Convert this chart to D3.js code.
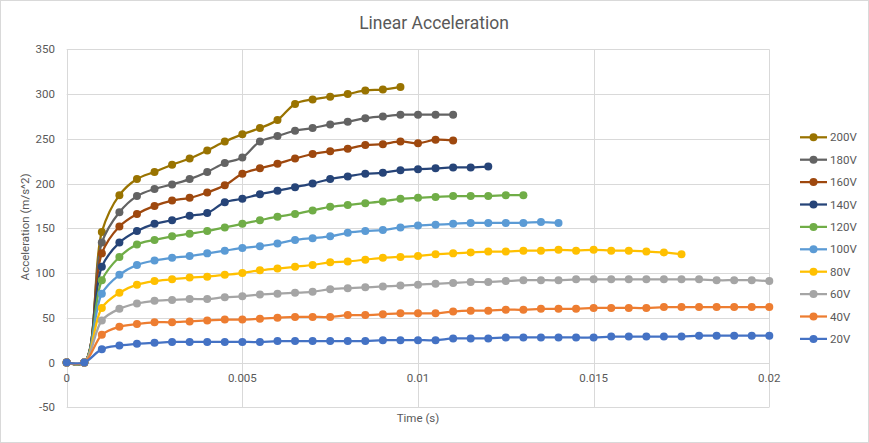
<!DOCTYPE html>
<html>
<head>
<meta charset="utf-8">
<script src="https://cdn.jsdelivr.net/npm/d3@7"></script>
<style>
  html, body { margin: 0; padding: 0; background: #fff; }
  svg { display: block; }
  text { font-family: Roboto, "Open Sans", sans-serif; fill: #595959; }
</style>
</head>
<body>
<svg id="chart" width="869" height="443"></svg>
<script>
// ---- data ----
const time = [0, 0.0005, 0.001, 0.0015, 0.002, 0.0025, 0.003, 0.0035, 0.004, 0.0045,
  0.005, 0.0055, 0.006, 0.0065, 0.007, 0.0075, 0.008, 0.0085, 0.009, 0.0095,
  0.01, 0.0105, 0.011, 0.0115, 0.012, 0.0125, 0.013, 0.0135, 0.014, 0.0145,
  0.015, 0.0155, 0.016, 0.0165, 0.017, 0.0175, 0.018, 0.0185, 0.019, 0.0195, 0.02];

const seriesNames = ["200V", "180V", "160V", "140V", "120V", "100V", "80V", "60V", "40V", "20V"];
const seriesColors = ["#997300", "#636363", "#9E480E", "#264478", "#70AD47", "#5B9BD5", "#FFC000", "#A5A5A5", "#ED7D31", "#4472C4"];

const v200 = [0, 0, 146, 187, 205, 213, 221, 228, 237, 247, 255, 262, 271, 289, 294, 297, 300, 304, 305, 308];
const v180 = [0, 0, 134, 168, 186, 194, 199, 205, 213, 223, 229, 247, 253, 259, 262, 266, 269, 273, 275, 277, 277, 277, 277];
const v160 = [0, 0, 122, 152, 166, 175, 181, 184, 190, 198, 211, 217, 222, 228, 233, 236, 239, 243, 244, 247, 245, 249, 248];
const v140 = [0, 0, 107, 134, 147, 155, 159, 164, 167, 179, 183, 188, 192, 196, 200, 205, 208, 211, 212, 215, 216, 217, 218, 218, 219];
const v120 = [0, 0, 92, 118, 132, 137, 141, 144, 147, 151, 155, 159, 163, 166, 170, 174, 176, 178, 180, 183, 184, 185, 186, 186, 186, 187, 187];
const v100 = [0, 0, 77, 98, 109, 114, 117, 119, 122, 125, 128, 130, 133, 137, 139, 141, 145, 147, 148, 151, 153, 154, 155, 156, 156, 156, 156, 157, 156];
const v80  = [0, 0, 61, 78, 87, 91, 93, 95, 96, 98, 100, 103, 105, 107, 109, 112, 113, 115, 117, 118, 119, 121, 122, 123, 124, 124, 125, 125, 126, 125, 126, 125, 125, 124, 123, 121];
const v60  = [0, 0, 47, 60, 66, 69, 70, 71, 71, 73, 74, 76, 77, 78, 79, 82, 83, 84, 85, 86, 87, 88, 89, 90, 90, 91, 92, 92, 92, 93, 93, 93, 93, 93, 93, 93, 93, 92, 92, 92, 91];
const v40  = [0, 0, 31, 40, 43, 45, 45, 46, 47, 48, 48, 49, 50, 51, 51, 51, 53, 53, 54, 55, 55, 55, 57, 58, 58, 59, 59, 60, 60, 60, 61, 61, 61, 61, 62, 62, 62, 62, 62, 62, 62];
const v20  = [0, 0, 15, 19, 21, 22, 23, 23, 23, 23, 23, 23, 24, 24, 24, 24, 24, 24, 25, 25, 25, 25, 27, 27, 27, 28, 28, 28, 28, 28, 28, 29, 29, 29, 29, 29, 30, 30, 30, 30, 30];

const seriesValues = [v200, v180, v160, v140, v120, v100, v80, v60, v40, v20];

const xTicks = [0, 0.005, 0.01, 0.015, 0.02];
const xTickLabels = ["0", "0.005", "0.01", "0.015", "0.02"];
const yTicks = [-50, 0, 50, 100, 150, 200, 250, 300, 350];

const titleText = "Linear Acceleration";
const xTitle = "Time (s)";
const yTitle = "Acceleration (m/s^2)";

// ---- layout ----
const W = 869, H = 443;
const plot = { left: 66.7, right: 769.3, top: 49.3, bottom: 407.3 };

const svg = d3.select("#chart");

// outer border
svg.append("rect").attr("x", 0.5).attr("y", 0.5).attr("width", W - 1).attr("height", H - 1)
  .attr("fill", "#fff").attr("stroke", "#d9d9d9");

const x = d3.scaleLinear().domain([0, 0.02]).range([plot.left, plot.right]);
const y = d3.scaleLinear().domain([-50, 350]).range([plot.bottom, plot.top]);

const gridColor = "#d9d9d9";

// horizontal gridlines
svg.append("g").selectAll("line").data(yTicks).join("line")
  .attr("x1", plot.left).attr("x2", plot.right)
  .attr("y1", d => Math.round(y(d)) + 0.5).attr("y2", d => Math.round(y(d)) + 0.5)
  .attr("stroke", gridColor).attr("stroke-width", 1);

// vertical gridlines
svg.append("g").selectAll("line").data(xTicks).join("line")
  .attr("x1", d => Math.round(x(d)) + 0.5).attr("x2", d => Math.round(x(d)) + 0.5)
  .attr("y1", plot.top).attr("y2", plot.bottom)
  .attr("stroke", gridColor).attr("stroke-width", 1);

// y tick labels
svg.append("g").selectAll("text").data(yTicks).join("text")
  .attr("x", 55).attr("y", d => y(d))
  .attr("dy", "0.35em")
  .attr("text-anchor", "end")
  .attr("font-size", 11.5)
  .text(d => d);

// x tick labels (at y=0 crossing)
svg.append("g").selectAll("text").data(xTicks).join("text")
  .attr("x", d => x(d)).attr("y", y(0) + 15)
  .attr("dy", "0.35em")
  .attr("text-anchor", "middle")
  .attr("font-size", 11.5)
  .text((d, i) => xTickLabels[i]);

// title
svg.append("text").attr("x", 434).attr("y", 23).attr("dy", "0.35em")
  .attr("text-anchor", "middle").attr("font-size", 17.5).text(titleText);

// axis titles
svg.append("text").attr("x", 418).attr("y", 418).attr("dy", "0.35em")
  .attr("text-anchor", "middle").attr("font-size", 11.5).text(xTitle);
svg.append("text")
  .attr("transform", `translate(25,227) rotate(-90)`)
  .attr("dy", "0.35em")
  .attr("text-anchor", "middle").attr("font-size", 11.5).text(yTitle);

// series: 200V drawn first, 20V on top
const line = d3.line()
  .x(d => x(d[0])).y(d => y(d[1]))
  .curve(d3.curveCatmullRom.alpha(0.5));

const g = svg.append("g");
seriesNames.forEach((name, i) => {
  const pts = seriesValues[i].map((v, k) => [time[k], v]);
  g.append("path").datum(pts)
    .attr("d", line)
    .attr("fill", "none")
    .attr("stroke", seriesColors[i])
    .attr("stroke-width", 2.25)
    .attr("stroke-linejoin", "round")
    .attr("stroke-linecap", "round");
  g.append("g").selectAll("circle").data(pts).join("circle")
    .attr("cx", d => x(d[0])).attr("cy", d => y(d[1]))
    .attr("r", 4)
    .attr("fill", seriesColors[i]);
});

// legend
const legend = svg.append("g");
seriesNames.forEach((name, i) => {
  const ly = 137.3 + i * 22.4;
  legend.append("line").attr("x1", 800).attr("x2", 827).attr("y1", ly).attr("y2", ly)
    .attr("stroke", seriesColors[i]).attr("stroke-width", 2.25);
  legend.append("circle").attr("cx", 813.5).attr("cy", ly).attr("r", 4).attr("fill", seriesColors[i]);
  legend.append("text").attr("x", 830).attr("y", ly).attr("dy", "0.35em")
    .attr("font-size", 11.5).text(name);
});
</script>
</body>
</html>
